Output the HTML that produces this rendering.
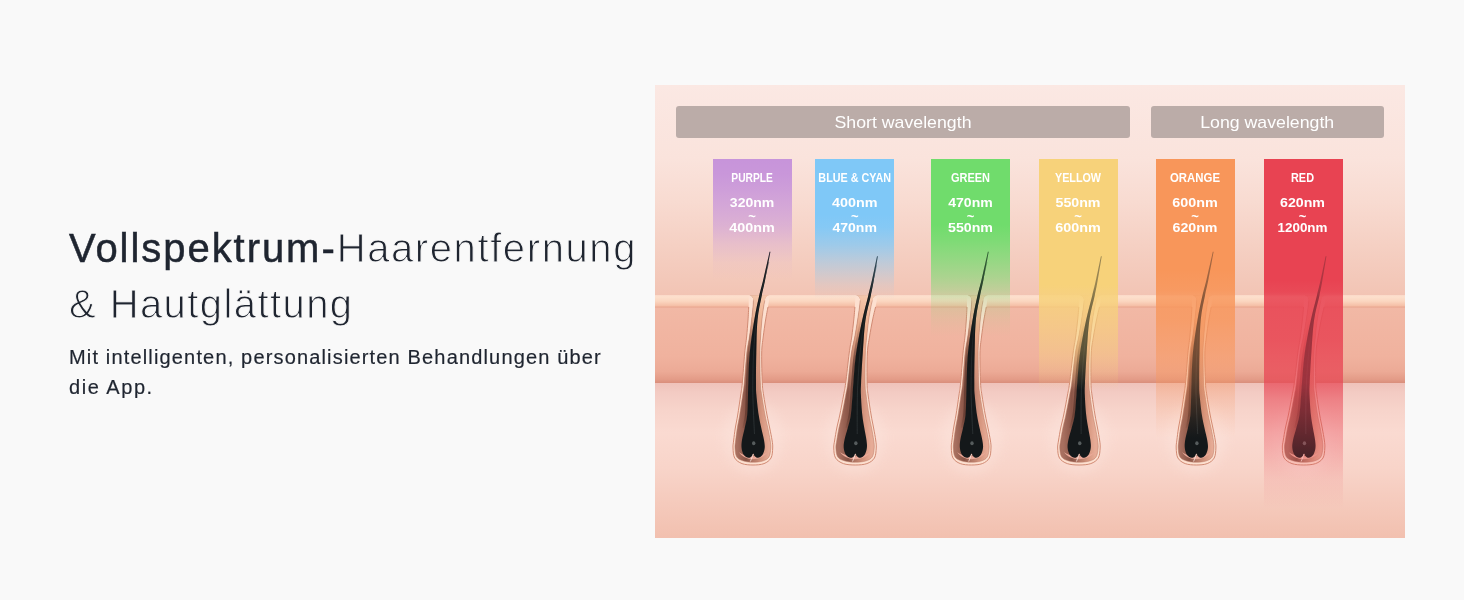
<!DOCTYPE html>
<html lang="de">
<head>
<meta charset="utf-8">
<title>Vollspektrum-Haarentfernung</title>
<style>
  html, body { margin: 0; padding: 0; }
  body {
    width: 1464px; height: 600px; overflow: hidden; position: relative;
    background: #f9f9f9;
    font-family: "Liberation Sans", sans-serif;
    color: #1f2530;
  }
  .h1, .sub, #art { will-change: transform; opacity: 0.999; }
  .h1 {
    position: absolute; left: 69px; top: 219.7px; margin: 0;
    font-size: 40px; line-height: 56px; font-weight: 400; white-space: nowrap;
    color: #1f2530;
  }
  .h1 .b { -webkit-text-stroke: 0.5px #1f2530; letter-spacing: 1.95px; }
  .h1 .l { letter-spacing: 1.6px; color: #1f2530; -webkit-text-stroke: 1.0px #f9f9f9; }
  .h1 .l2 { letter-spacing: 1.42px; }
  .sub {
    position: absolute; left: 69px; top: 343px; margin: 0;
    font-size: 20px; line-height: 29.7px; white-space: nowrap; color: #1f2530;
    letter-spacing: 1.16px; -webkit-text-stroke: 0.2px #1f2530;
  }
  #art { position: absolute; left: 655px; top: 85px; width: 750px; height: 453px; display: block; }
  .t { font-family: "Liberation Sans", sans-serif; fill: #fff; text-anchor: middle; }
</style>
</head>
<body>
<div class="h1"><span class="b">Vollspektrum-</span><span class="l">Haarentfernung</span><br><span class="l l2">&amp; Hautglättung</span></div>
<div class="sub">Mit intelligenten, personalisierten Behandlungen über<br><span style="letter-spacing:1.55px">die App.</span></div>

<svg id="art" viewBox="655 85 750 453">
  <defs>
    <linearGradient id="bg" gradientUnits="userSpaceOnUse" x1="0" y1="85" x2="0" y2="296">
      <stop offset="0" stop-color="#fbe8e3"/>
      <stop offset="0.35" stop-color="#fae3dc"/>
      <stop offset="0.55" stop-color="#f8dbd1"/>
      <stop offset="0.76" stop-color="#f5d0c3"/>
      <stop offset="1" stop-color="#f2c4b4"/>
    </linearGradient>
    <linearGradient id="shTop" gradientUnits="userSpaceOnUse" x1="0" y1="296" x2="0" y2="392">
      <stop offset="0" stop-color="#f9ccb0" stop-opacity="0.9"/>
      <stop offset="0.35" stop-color="#f3b590" stop-opacity="0.72"/>
      <stop offset="0.75" stop-color="#f0ae8c" stop-opacity="0.35"/>
      <stop offset="1" stop-color="#f0ae8c" stop-opacity="0"/>
    </linearGradient>
    <filter id="blur" x="-50%" y="-50%" width="200%" height="200%"><feGaussianBlur stdDeviation="6"/></filter>
    <linearGradient id="epi" x1="0" y1="0" x2="0" y2="1">
      <stop offset="0" stop-color="#f2baa7"/>
      <stop offset="0.7" stop-color="#f0b29e"/>
      <stop offset="0.87" stop-color="#ecaa96"/>
      <stop offset="0.96" stop-color="#e39b87"/>
      <stop offset="1" stop-color="#d98e7b"/>
    </linearGradient>
    <linearGradient id="lip" x1="0" y1="0" x2="0" y2="1">
      <stop offset="0" stop-color="#fbd9c8"/>
      <stop offset="0.15" stop-color="#fde0cd"/>
      <stop offset="0.5" stop-color="#fbd6c0"/>
      <stop offset="0.85" stop-color="#f5c0a8"/>
      <stop offset="0.93" stop-color="#eeb098"/>
      <stop offset="1" stop-color="#e7a38b"/>
    </linearGradient>
    <linearGradient id="derm" x1="0" y1="0" x2="0" y2="1">
      <stop offset="0" stop-color="#efc2ba"/>
      <stop offset="0.06" stop-color="#f3cbc3"/>
      <stop offset="0.18" stop-color="#f7d4cb"/>
      <stop offset="0.32" stop-color="#fadad1"/>
      <stop offset="0.55" stop-color="#f8d4c9"/>
      <stop offset="1" stop-color="#f2c0af"/>
    </linearGradient>
    <linearGradient id="sheath" gradientUnits="userSpaceOnUse" x1="-16" y1="0" x2="16" y2="0">
      <stop offset="0" stop-color="#a87060"/>
      <stop offset="0.28" stop-color="#8a5547"/>
      <stop offset="0.5" stop-color="#b27765"/>
      <stop offset="0.78" stop-color="#d6967f"/>
      <stop offset="1" stop-color="#e6ab96"/>
    </linearGradient>
    <linearGradient id="hsg" gradientUnits="userSpaceOnUse" x1="0" y1="318" x2="0" y2="432">
      <stop offset="0" stop-color="#5e372d" stop-opacity="0"/>
      <stop offset="0.4" stop-color="#5e372d" stop-opacity="1"/>
      <stop offset="0.85" stop-color="#5e372d" stop-opacity="1"/>
      <stop offset="1" stop-color="#5e372d" stop-opacity="0"/>
    </linearGradient>
    <linearGradient id="hmg" gradientUnits="userSpaceOnUse" x1="0" y1="240" x2="0" y2="410">
      <stop offset="0" stop-color="#fff"/><stop offset="0.5" stop-color="#fff"/><stop offset="1" stop-color="#000"/>
    </linearGradient>
    <mask id="hm" maskUnits="userSpaceOnUse" x="600" y="200" width="900" height="300"><rect x="600" y="200" width="900" height="300" fill="url(#hmg)"/></mask>
    <linearGradient id="gP" gradientUnits="userSpaceOnUse" x1="0" y1="159" x2="0" y2="280"><stop offset="0.0000" stop-color="#c794da" stop-opacity="1"/><stop offset="0.1322" stop-color="#c794da" stop-opacity="0.96"/><stop offset="0.2562" stop-color="#c794da" stop-opacity="0.86"/><stop offset="0.4215" stop-color="#c794da" stop-opacity="0.7"/><stop offset="0.5620" stop-color="#c794da" stop-opacity="0.54"/><stop offset="0.7107" stop-color="#c794da" stop-opacity="0.28"/><stop offset="0.8595" stop-color="#c794da" stop-opacity="0.07"/><stop offset="1.0000" stop-color="#c794da" stop-opacity="0"/></linearGradient>
    <linearGradient id="gB" gradientUnits="userSpaceOnUse" x1="0" y1="159" x2="0" y2="299"><stop offset="0.0000" stop-color="#7fc8f7" stop-opacity="1"/><stop offset="0.4000" stop-color="#7fc8f7" stop-opacity="1"/><stop offset="0.4857" stop-color="#7fc8f7" stop-opacity="0.95"/><stop offset="0.6143" stop-color="#7fc8f7" stop-opacity="0.74"/><stop offset="0.7429" stop-color="#7fc8f7" stop-opacity="0.45"/><stop offset="0.9000" stop-color="#7fc8f7" stop-opacity="0.13"/><stop offset="1.0000" stop-color="#7fc8f7" stop-opacity="0"/></linearGradient>
    <linearGradient id="gG" gradientUnits="userSpaceOnUse" x1="0" y1="159" x2="0" y2="336"><stop offset="0.0000" stop-color="#70dc6c" stop-opacity="1"/><stop offset="0.3729" stop-color="#70dc6c" stop-opacity="1"/><stop offset="0.4576" stop-color="#70dc6c" stop-opacity="0.9"/><stop offset="0.5593" stop-color="#70dc6c" stop-opacity="0.74"/><stop offset="0.6667" stop-color="#70dc6c" stop-opacity="0.55"/><stop offset="0.7401" stop-color="#70dc6c" stop-opacity="0.38"/><stop offset="0.7966" stop-color="#70dc6c" stop-opacity="0.2"/><stop offset="0.9096" stop-color="#70dc6c" stop-opacity="0.07"/><stop offset="1.0000" stop-color="#70dc6c" stop-opacity="0"/></linearGradient>
    <linearGradient id="gY" gradientUnits="userSpaceOnUse" x1="0" y1="159" x2="0" y2="390"><stop offset="0.0000" stop-color="#f7d27a" stop-opacity="1"/><stop offset="0.5455" stop-color="#f7d27a" stop-opacity="1"/><stop offset="0.6104" stop-color="#f7d27a" stop-opacity="0.82"/><stop offset="0.7403" stop-color="#f7d27a" stop-opacity="0.6"/><stop offset="0.8268" stop-color="#f7d27a" stop-opacity="0.44"/><stop offset="0.9134" stop-color="#f7d27a" stop-opacity="0.22"/><stop offset="1.0000" stop-color="#f7d27a" stop-opacity="0"/></linearGradient>
    <linearGradient id="gO" gradientUnits="userSpaceOnUse" x1="0" y1="159" x2="0" y2="438"><stop offset="0.0000" stop-color="#f8965a" stop-opacity="1"/><stop offset="0.3978" stop-color="#f8965a" stop-opacity="1"/><stop offset="0.4695" stop-color="#f8965a" stop-opacity="0.92"/><stop offset="0.4946" stop-color="#f8965a" stop-opacity="0.82"/><stop offset="0.5341" stop-color="#f8965a" stop-opacity="0.8"/><stop offset="0.5771" stop-color="#f8965a" stop-opacity="0.78"/><stop offset="0.6846" stop-color="#f8965a" stop-opacity="0.58"/><stop offset="0.7921" stop-color="#f8965a" stop-opacity="0.36"/><stop offset="0.8638" stop-color="#f8965a" stop-opacity="0.2"/><stop offset="0.9355" stop-color="#f8965a" stop-opacity="0.08"/><stop offset="1.0000" stop-color="#f8965a" stop-opacity="0"/></linearGradient>
    <linearGradient id="gR" gradientUnits="userSpaceOnUse" x1="0" y1="159" x2="0" y2="508"><stop offset="0.0000" stop-color="#e84352" stop-opacity="1"/><stop offset="0.3467" stop-color="#e84352" stop-opacity="1"/><stop offset="0.3811" stop-color="#e84352" stop-opacity="0.95"/><stop offset="0.3954" stop-color="#e84352" stop-opacity="0.87"/><stop offset="0.4269" stop-color="#e84352" stop-opacity="0.87"/><stop offset="0.5186" stop-color="#e84352" stop-opacity="0.84"/><stop offset="0.6418" stop-color="#e84352" stop-opacity="0.7"/><stop offset="0.6905" stop-color="#e84352" stop-opacity="0.55"/><stop offset="0.8252" stop-color="#e84352" stop-opacity="0.3"/><stop offset="0.9198" stop-color="#e84352" stop-opacity="0.1"/><stop offset="1.0000" stop-color="#e84352" stop-opacity="0"/></linearGradient>

    <!-- follicle: origin x = bulb centre, absolute y -->
    <g id="folA">
      <ellipse cx="0" cy="438" rx="30" ry="36" fill="#fde9e2" opacity="0.35" filter="url(#blur)"/>
      <path d="M -4.20,296.00 C -4.22,297.83 -4.17,303.00 -4.30,307.00 C -4.43,311.00 -4.65,315.00 -5.00,320.00 C -5.35,325.00 -5.85,331.50 -6.40,337.00 C -6.95,342.50 -7.58,345.33 -8.30,353.00 C -9.02,360.67 -10.03,376.00 -10.70,383.00 C -11.37,390.00 -11.53,389.67 -12.30,395.00 C -13.07,400.33 -14.40,409.50 -15.30,415.00 C -16.20,420.50 -17.03,423.83 -17.70,428.00 C -18.37,432.17 -18.92,436.67 -19.30,440.00 C -19.68,443.33 -20.17,445.00 -20.00,448.00 C -19.83,451.00 -19.80,455.40 -18.30,458.00 C -16.80,460.60 -14.05,462.43 -11.00,463.60 C -7.95,464.77 -3.67,465.00 0.00,465.00 C 3.67,465.00 8.00,464.77 11.00,463.60 C 14.00,462.43 16.55,460.60 18.00,458.00 C 19.45,455.40 19.53,451.00 19.70,448.00 C 19.87,445.00 19.50,443.33 19.00,440.00 C 18.50,436.67 17.53,432.17 16.70,428.00 C 15.87,423.83 15.02,420.50 14.00,415.00 C 12.98,409.50 11.38,400.33 10.60,395.00 C 9.82,389.67 9.62,390.00 9.30,383.00 C 8.98,376.00 8.55,360.67 8.70,353.00 C 8.85,345.33 9.55,342.50 10.20,337.00 C 10.85,331.50 11.80,325.00 12.60,320.00 C 13.40,315.00 14.33,311.00 15.00,307.00 C 15.67,303.00 16.33,297.83 16.60,296.00 Z" fill="#fde0d0"/>
      <path d="M -4.30,307.00 C -4.42,309.17 -4.65,315.00 -5.00,320.00 C -5.35,325.00 -5.85,331.50 -6.40,337.00 C -6.95,342.50 -7.58,345.33 -8.30,353.00 C -9.02,360.67 -10.03,376.00 -10.70,383.00 C -11.37,390.00 -11.53,389.67 -12.30,395.00 C -13.07,400.33 -14.40,409.50 -15.30,415.00 C -16.20,420.50 -17.03,423.83 -17.70,428.00 C -18.37,432.17 -18.92,436.67 -19.30,440.00 C -19.68,443.33 -20.17,445.00 -20.00,448.00 C -19.83,451.00 -19.80,455.40 -18.30,458.00 C -16.80,460.60 -14.05,462.43 -11.00,463.60 C -7.95,464.77 -3.67,465.00 0.00,465.00 C 3.67,465.00 8.00,464.77 11.00,463.60 C 14.00,462.43 16.55,460.60 18.00,458.00 C 19.45,455.40 19.53,451.00 19.70,448.00 C 19.87,445.00 19.50,443.33 19.00,440.00 C 18.50,436.67 17.53,432.17 16.70,428.00 C 15.87,423.83 15.02,420.50 14.00,415.00 C 12.98,409.50 11.38,400.33 10.60,395.00 C 9.82,389.67 9.62,390.00 9.30,383.00 C 8.98,376.00 8.55,360.67 8.70,353.00 C 8.85,345.33 9.55,342.50 10.20,337.00 C 10.85,331.50 11.80,325.00 12.60,320.00 C 13.40,315.00 14.60,309.17 15.00,307.00" fill="none" stroke="#d18a73" stroke-width="1"/>
      <path d="M -3.40,295.20 C -2.97,295.47 -1.43,295.92 -0.80,296.80 C -0.17,297.68 0.27,298.80 0.40,300.50 C 0.53,302.20 0.30,303.75 0.00,307.00 C -0.30,310.25 -0.80,315.00 -1.40,320.00 C -2.00,325.00 -2.80,331.50 -3.60,337.00 C -4.40,342.50 -5.35,345.33 -6.20,353.00 C -7.05,360.67 -8.02,376.00 -8.70,383.00 C -9.38,390.00 -9.53,389.67 -10.30,395.00 C -11.07,400.33 -12.40,409.50 -13.30,415.00 C -14.20,420.50 -15.03,423.83 -15.70,428.00 C -16.37,432.17 -16.92,436.67 -17.30,440.00 C -17.68,443.33 -18.18,445.17 -18.00,448.00 C -17.82,450.83 -17.62,454.83 -16.20,457.00 C -14.78,459.17 -12.23,460.13 -9.50,461.00 C -6.77,461.87 -3.02,462.20 0.20,462.20 C 3.42,462.20 7.18,461.87 9.80,461.00 C 12.42,460.13 14.57,459.17 15.90,457.00 C 17.23,454.83 17.60,450.83 17.80,448.00 C 18.00,445.17 17.60,443.33 17.10,440.00 C 16.60,436.67 15.65,432.17 14.80,428.00 C 13.95,423.83 13.02,420.50 12.00,415.00 C 10.98,409.50 9.47,400.33 8.70,395.00 C 7.93,389.67 7.72,390.00 7.40,383.00 C 7.08,376.00 6.77,360.67 6.80,353.00 C 6.83,345.33 7.25,342.50 7.60,337.00 C 7.95,331.50 8.40,325.00 8.90,320.00 C 9.40,315.00 10.12,310.25 10.60,307.00 C 11.08,303.75 11.37,302.20 11.80,300.50 C 12.23,298.80 12.47,297.68 13.20,296.80 C 13.93,295.92 15.70,295.47 16.20,295.20 Z" fill="url(#sheath)"/>
      <path d="M -3.40,295.20 C -2.97,295.47 -1.43,295.92 -0.80,296.80 C -0.17,297.68 0.27,298.80 0.40,300.50 C 0.53,302.20 0.30,303.75 0.00,307.00 C -0.30,310.25 -0.80,315.00 -1.40,320.00 C -2.00,325.00 -2.80,331.50 -3.60,337.00 C -4.40,342.50 -5.35,345.33 -6.20,353.00 C -7.05,360.67 -8.02,376.00 -8.70,383.00 C -9.38,390.00 -9.53,389.67 -10.30,395.00 C -11.07,400.33 -12.40,409.50 -13.30,415.00 C -14.20,420.50 -15.03,423.83 -15.70,428.00 C -16.37,432.17 -16.92,436.67 -17.30,440.00 C -17.68,443.33 -18.18,445.17 -18.00,448.00 C -17.82,450.83 -17.62,454.83 -16.20,457.00 C -14.78,459.17 -12.23,460.13 -9.50,461.00 C -6.77,461.87 -3.02,462.20 0.20,462.20 C 3.42,462.20 7.18,461.87 9.80,461.00 C 12.42,460.13 14.57,459.17 15.90,457.00 C 17.23,454.83 17.60,450.83 17.80,448.00 C 18.00,445.17 17.60,443.33 17.10,440.00 C 16.60,436.67 15.65,432.17 14.80,428.00 C 13.95,423.83 13.02,420.50 12.00,415.00 C 10.98,409.50 9.47,400.33 8.70,395.00 C 7.93,389.67 7.72,390.00 7.40,383.00 C 7.08,376.00 6.77,360.67 6.80,353.00 C 6.83,345.33 7.25,342.50 7.60,337.00 C 7.95,331.50 8.40,325.00 8.90,320.00 C 9.40,315.00 10.12,310.25 10.60,307.00 C 11.08,303.75 11.37,302.20 11.80,300.50 C 12.23,298.80 12.47,297.68 13.20,296.80 C 13.93,295.92 15.70,295.47 16.20,295.20 Z" fill="url(#shTop)"/>
      <path d="M 0.40,300.50 C 0.33,301.58 0.30,303.75 0.00,307.00 C -0.30,310.25 -0.80,315.00 -1.40,320.00 C -2.00,325.00 -2.80,331.50 -3.60,337.00 C -4.40,342.50 -5.35,345.33 -6.20,353.00 C -7.05,360.67 -8.02,376.00 -8.70,383.00 C -9.38,390.00 -9.53,389.67 -10.30,395.00 C -11.07,400.33 -12.40,409.50 -13.30,415.00 C -14.20,420.50 -15.03,423.83 -15.70,428.00 C -16.37,432.17 -16.92,436.67 -17.30,440.00 C -17.68,443.33 -18.18,445.17 -18.00,448.00 C -17.82,450.83 -17.62,454.83 -16.20,457.00 C -14.78,459.17 -12.23,460.13 -9.50,461.00 C -6.77,461.87 -3.02,462.20 0.20,462.20 C 3.42,462.20 7.18,461.87 9.80,461.00 C 12.42,460.13 14.57,459.17 15.90,457.00 C 17.23,454.83 17.60,450.83 17.80,448.00 C 18.00,445.17 17.60,443.33 17.10,440.00 C 16.60,436.67 15.65,432.17 14.80,428.00 C 13.95,423.83 13.02,420.50 12.00,415.00 C 10.98,409.50 9.47,400.33 8.70,395.00 C 7.93,389.67 7.72,390.00 7.40,383.00 C 7.08,376.00 6.77,360.67 6.80,353.00 C 6.83,345.33 7.25,342.50 7.60,337.00 C 7.95,331.50 8.40,325.00 8.90,320.00 C 9.40,315.00 10.12,310.25 10.60,307.00 C 11.08,303.75 11.60,301.58 11.80,300.50" fill="none" stroke="#b87865" stroke-width="0.5"/>
      <path d="M 0.30,320.00 C -0.47,325.50 -3.30,342.50 -4.30,353.00 C -5.30,363.50 -5.42,376.00 -5.70,383.00 C -5.98,390.00 -5.82,389.67 -6.00,395.00 C -6.18,400.33 -6.25,409.50 -6.80,415.00 C -7.35,420.50 -8.88,425.83 -9.30,428.00" fill="none" stroke="url(#hsg)" stroke-width="2.6" opacity="0.75"/>
      <path d="M -14.0,452 C -9.0,461.5 9.0,461.5 14.5,452 C 9.0,457.5 -9.0,457.5 -14.0,452 Z" fill="#eaa999"/>
      <path d="M 16.60,251.70 C 15.53,256.42 11.92,272.68 10.20,280.00 C 8.47,287.32 7.73,288.93 6.25,295.60 C 4.77,302.27 2.89,310.43 1.30,320.00 C -0.29,329.57 -2.30,342.50 -3.30,353.00 C -4.30,363.50 -4.42,376.00 -4.70,383.00 C -4.98,390.00 -4.82,389.67 -5.00,395.00 C -5.18,400.33 -5.25,409.50 -5.80,415.00 C -6.35,420.50 -7.43,423.83 -8.30,428.00 C -9.17,432.17 -10.48,436.67 -11.00,440.00 C -11.52,443.33 -11.70,445.50 -11.40,448.00 C -11.10,450.50 -10.35,453.37 -9.20,455.00 C -8.05,456.63 -5.83,457.60 -4.50,457.80 C -3.17,458.00 -2.00,456.92 -1.20,456.20 C -0.40,455.48 -0.20,453.50 0.30,453.50 C 0.80,453.50 1.02,455.48 1.80,456.20 C 2.58,456.92 3.73,458.00 5.00,457.80 C 6.27,457.60 8.28,456.63 9.40,455.00 C 10.52,453.37 11.43,450.50 11.70,448.00 C 11.97,445.50 11.57,443.33 11.00,440.00 C 10.43,436.67 9.18,432.17 8.30,428.00 C 7.42,423.83 6.52,420.50 5.70,415.00 C 4.88,409.50 3.85,400.33 3.40,395.00 C 2.95,389.67 3.02,390.00 3.00,383.00 C 2.98,376.00 3.05,363.50 3.30,353.00 C 3.55,342.50 3.59,329.57 4.50,320.00 C 5.41,310.43 7.48,302.27 8.75,295.60 C 10.02,288.93 10.66,287.30 12.10,280.00 C 13.54,272.70 16.52,256.50 17.40,251.80 Z" fill="#14181a"/>
      <path d="M 15.80,262.00 C 14.93,265.50 11.97,277.33 10.60,283.00 C 9.23,288.67 8.82,289.83 7.60,296.00 C 6.38,302.17 4.47,310.50 3.30,320.00 C 2.13,329.50 1.18,342.50 0.60,353.00 C 0.02,363.50 -0.10,375.17 -0.20,383.00 C -0.30,390.83 -0.17,393.83 0.00,400.00 C 0.17,406.17 0.55,414.33 0.80,420.00 C 1.05,425.67 1.38,431.67 1.50,434.00" fill="none" stroke="#3b4345" stroke-width="0.7" opacity="0.8"/>
      <ellipse cx="0.7" cy="443.2" rx="1.7" ry="2" fill="#565c5d"/>
      <path d="M 0.3,454 L -2.6,461.5" stroke="#fce9e2" stroke-width="0.8" fill="none"/>
    </g>
    <path id="hairA" d="M 16.60,251.70 C 15.53,256.42 11.92,272.68 10.20,280.00 C 8.47,287.32 7.73,288.93 6.25,295.60 C 4.77,302.27 2.89,310.43 1.30,320.00 C -0.29,329.57 -2.30,342.50 -3.30,353.00 C -4.30,363.50 -4.42,376.00 -4.70,383.00 C -4.98,390.00 -4.82,389.67 -5.00,395.00 C -5.18,400.33 -5.25,409.50 -5.80,415.00 C -6.35,420.50 -7.43,423.83 -8.30,428.00 C -9.17,432.17 -10.48,436.67 -11.00,440.00 C -11.52,443.33 -11.70,445.50 -11.40,448.00 C -11.10,450.50 -10.35,453.37 -9.20,455.00 C -8.05,456.63 -5.83,457.60 -4.50,457.80 C -3.17,458.00 -2.00,456.92 -1.20,456.20 C -0.40,455.48 -0.20,453.50 0.30,453.50 C 0.80,453.50 1.02,455.48 1.80,456.20 C 2.58,456.92 3.73,458.00 5.00,457.80 C 6.27,457.60 8.28,456.63 9.40,455.00 C 10.52,453.37 11.43,450.50 11.70,448.00 C 11.97,445.50 11.57,443.33 11.00,440.00 C 10.43,436.67 9.18,432.17 8.30,428.00 C 7.42,423.83 6.52,420.50 5.70,415.00 C 4.88,409.50 3.85,400.33 3.40,395.00 C 2.95,389.67 3.02,390.00 3.00,383.00 C 2.98,376.00 3.05,363.50 3.30,353.00 C 3.55,342.50 3.59,329.57 4.50,320.00 C 5.41,310.43 7.48,302.27 8.75,295.60 C 10.02,288.93 10.66,287.30 12.10,280.00 C 13.54,272.70 16.52,256.50 17.40,251.80 Z" fill="#14181a"/>
    <g id="folB">
      <ellipse cx="0" cy="438" rx="30" ry="36" fill="#fde9e2" opacity="0.35" filter="url(#blur)"/>
      <path d="M 0.21,296.00 C 0.13,297.83 0.02,303.00 -0.24,307.00 C -0.51,311.00 -0.87,315.00 -1.40,320.00 C -1.93,325.00 -2.66,331.50 -3.42,337.00 C -4.18,342.50 -4.95,345.33 -5.96,353.00 C -6.96,360.67 -8.53,376.00 -9.46,383.00 C -10.39,390.00 -10.56,389.67 -11.54,395.00 C -12.53,400.33 -14.24,409.50 -15.37,415.00 C -16.51,420.50 -17.50,423.83 -18.35,428.00 C -19.19,432.17 -19.92,436.67 -20.43,440.00 C -20.94,443.33 -21.54,445.00 -21.40,448.00 C -21.26,451.00 -21.19,455.40 -19.58,458.00 C -17.98,460.60 -15.03,462.43 -11.77,463.60 C -8.51,464.77 -3.92,465.00 0.00,465.00 C 3.92,465.00 8.56,464.77 11.77,463.60 C 14.98,462.43 17.71,460.60 19.26,458.00 C 20.81,455.40 20.86,451.00 21.08,448.00 C 21.29,445.00 20.98,443.33 20.55,440.00 C 20.11,436.67 19.22,432.17 18.46,428.00 C 17.70,423.83 16.89,420.50 15.98,415.00 C 15.06,409.50 13.63,400.33 12.96,395.00 C 12.29,389.67 12.06,390.00 11.94,383.00 C 11.82,376.00 11.84,360.67 12.23,353.00 C 12.63,345.33 13.47,342.50 14.34,337.00 C 15.20,331.50 16.42,325.00 17.43,320.00 C 18.45,315.00 19.57,311.00 20.41,307.00 C 21.25,303.00 22.12,297.83 22.46,296.00 Z" fill="#fde0d0"/>
      <path d="M -0.24,307.00 C -0.44,309.17 -0.87,315.00 -1.40,320.00 C -1.93,325.00 -2.66,331.50 -3.42,337.00 C -4.18,342.50 -4.95,345.33 -5.96,353.00 C -6.96,360.67 -8.53,376.00 -9.46,383.00 C -10.39,390.00 -10.56,389.67 -11.54,395.00 C -12.53,400.33 -14.24,409.50 -15.37,415.00 C -16.51,420.50 -17.50,423.83 -18.35,428.00 C -19.19,432.17 -19.92,436.67 -20.43,440.00 C -20.94,443.33 -21.54,445.00 -21.40,448.00 C -21.26,451.00 -21.19,455.40 -19.58,458.00 C -17.98,460.60 -15.03,462.43 -11.77,463.60 C -8.51,464.77 -3.92,465.00 0.00,465.00 C 3.92,465.00 8.56,464.77 11.77,463.60 C 14.98,462.43 17.71,460.60 19.26,458.00 C 20.81,455.40 20.86,451.00 21.08,448.00 C 21.29,445.00 20.98,443.33 20.55,440.00 C 20.11,436.67 19.22,432.17 18.46,428.00 C 17.70,423.83 16.89,420.50 15.98,415.00 C 15.06,409.50 13.63,400.33 12.96,395.00 C 12.29,389.67 12.06,390.00 11.94,383.00 C 11.82,376.00 11.84,360.67 12.23,353.00 C 12.63,345.33 13.47,342.50 14.34,337.00 C 15.20,331.50 16.42,325.00 17.43,320.00 C 18.45,315.00 19.91,309.17 20.41,307.00" fill="none" stroke="#d18a73" stroke-width="1"/>
      <path d="M 1.06,295.20 C 1.52,295.47 3.16,295.92 3.82,296.80 C 4.47,297.68 4.90,298.80 4.99,300.50 C 5.08,302.20 4.78,303.75 4.36,307.00 C 3.94,310.25 3.25,315.00 2.45,320.00 C 1.66,325.00 0.60,331.50 -0.43,337.00 C -1.46,342.50 -2.56,345.33 -3.71,353.00 C -4.86,360.67 -6.37,376.00 -7.32,383.00 C -8.27,390.00 -8.42,389.67 -9.40,395.00 C -10.39,400.33 -12.10,409.50 -13.23,415.00 C -14.37,420.50 -15.36,423.83 -16.21,428.00 C -17.05,432.17 -17.78,436.67 -18.29,440.00 C -18.80,443.33 -19.42,445.17 -19.26,448.00 C -19.10,450.83 -18.85,454.83 -17.33,457.00 C -15.82,459.17 -13.09,460.13 -10.17,461.00 C -7.24,461.87 -3.23,462.20 0.21,462.20 C 3.66,462.20 7.69,461.87 10.49,461.00 C 13.29,460.13 15.59,459.17 17.01,457.00 C 18.44,454.83 18.80,450.83 19.05,448.00 C 19.30,445.17 18.95,443.33 18.51,440.00 C 18.08,436.67 17.21,432.17 16.43,428.00 C 15.65,423.83 14.75,420.50 13.84,415.00 C 12.92,409.50 11.58,400.33 10.93,395.00 C 10.27,389.67 10.03,390.00 9.91,383.00 C 9.79,376.00 9.93,360.67 10.20,353.00 C 10.48,345.33 11.01,342.50 11.56,337.00 C 12.10,331.50 12.79,325.00 13.48,320.00 C 14.17,315.00 15.08,310.25 15.70,307.00 C 16.32,303.75 16.67,302.20 17.19,300.50 C 17.70,298.80 17.99,297.68 18.80,296.80 C 19.61,295.92 21.49,295.47 22.03,295.20 Z" fill="url(#sheath)"/>
      <path d="M 1.06,295.20 C 1.52,295.47 3.16,295.92 3.82,296.80 C 4.47,297.68 4.90,298.80 4.99,300.50 C 5.08,302.20 4.78,303.75 4.36,307.00 C 3.94,310.25 3.25,315.00 2.45,320.00 C 1.66,325.00 0.60,331.50 -0.43,337.00 C -1.46,342.50 -2.56,345.33 -3.71,353.00 C -4.86,360.67 -6.37,376.00 -7.32,383.00 C -8.27,390.00 -8.42,389.67 -9.40,395.00 C -10.39,400.33 -12.10,409.50 -13.23,415.00 C -14.37,420.50 -15.36,423.83 -16.21,428.00 C -17.05,432.17 -17.78,436.67 -18.29,440.00 C -18.80,443.33 -19.42,445.17 -19.26,448.00 C -19.10,450.83 -18.85,454.83 -17.33,457.00 C -15.82,459.17 -13.09,460.13 -10.17,461.00 C -7.24,461.87 -3.23,462.20 0.21,462.20 C 3.66,462.20 7.69,461.87 10.49,461.00 C 13.29,460.13 15.59,459.17 17.01,457.00 C 18.44,454.83 18.80,450.83 19.05,448.00 C 19.30,445.17 18.95,443.33 18.51,440.00 C 18.08,436.67 17.21,432.17 16.43,428.00 C 15.65,423.83 14.75,420.50 13.84,415.00 C 12.92,409.50 11.58,400.33 10.93,395.00 C 10.27,389.67 10.03,390.00 9.91,383.00 C 9.79,376.00 9.93,360.67 10.20,353.00 C 10.48,345.33 11.01,342.50 11.56,337.00 C 12.10,331.50 12.79,325.00 13.48,320.00 C 14.17,315.00 15.08,310.25 15.70,307.00 C 16.32,303.75 16.67,302.20 17.19,300.50 C 17.70,298.80 17.99,297.68 18.80,296.80 C 19.61,295.92 21.49,295.47 22.03,295.20 Z" fill="url(#shTop)"/>
      <path d="M 4.99,300.50 C 4.88,301.58 4.78,303.75 4.36,307.00 C 3.94,310.25 3.25,315.00 2.45,320.00 C 1.66,325.00 0.60,331.50 -0.43,337.00 C -1.46,342.50 -2.56,345.33 -3.71,353.00 C -4.86,360.67 -6.37,376.00 -7.32,383.00 C -8.27,390.00 -8.42,389.67 -9.40,395.00 C -10.39,400.33 -12.10,409.50 -13.23,415.00 C -14.37,420.50 -15.36,423.83 -16.21,428.00 C -17.05,432.17 -17.78,436.67 -18.29,440.00 C -18.80,443.33 -19.42,445.17 -19.26,448.00 C -19.10,450.83 -18.85,454.83 -17.33,457.00 C -15.82,459.17 -13.09,460.13 -10.17,461.00 C -7.24,461.87 -3.23,462.20 0.21,462.20 C 3.66,462.20 7.69,461.87 10.49,461.00 C 13.29,460.13 15.59,459.17 17.01,457.00 C 18.44,454.83 18.80,450.83 19.05,448.00 C 19.30,445.17 18.95,443.33 18.51,440.00 C 18.08,436.67 17.21,432.17 16.43,428.00 C 15.65,423.83 14.75,420.50 13.84,415.00 C 12.92,409.50 11.58,400.33 10.93,395.00 C 10.27,389.67 10.03,390.00 9.91,383.00 C 9.79,376.00 9.93,360.67 10.20,353.00 C 10.48,345.33 11.01,342.50 11.56,337.00 C 12.10,331.50 12.79,325.00 13.48,320.00 C 14.17,315.00 15.08,310.25 15.70,307.00 C 16.32,303.75 16.94,301.58 17.19,300.50" fill="none" stroke="#b87865" stroke-width="0.5"/>
      <path d="M 6.10,320.00 C 5.09,325.50 1.48,342.50 -0.00,353.00 C -1.48,363.50 -2.17,376.00 -2.78,383.00 C -3.38,390.00 -3.20,389.67 -3.62,395.00 C -4.05,400.33 -4.54,409.50 -5.34,415.00 C -6.14,420.50 -7.92,425.83 -8.43,428.00" fill="none" stroke="url(#hsg)" stroke-width="2.6" opacity="0.75"/>
      <path d="M -15.0,452 C -9.6,461.5 9.6,461.5 15.5,452 C 9.6,457.5 -9.6,457.5 -15.0,452 Z" fill="#eaa999"/>
      <path d="M 21.89,256.13 C 20.99,260.38 17.98,275.01 16.52,281.60 C 15.06,288.19 14.70,289.24 13.14,295.64 C 11.57,302.04 9.13,310.44 7.10,320.00 C 5.08,329.56 2.48,342.50 1.00,353.00 C -0.48,363.50 -1.17,376.00 -1.78,383.00 C -2.38,390.00 -2.20,389.67 -2.62,395.00 C -3.05,400.33 -3.54,409.50 -4.34,415.00 C -5.14,420.50 -6.37,423.83 -7.43,428.00 C -8.49,432.17 -10.02,436.67 -10.68,440.00 C -11.34,443.33 -11.65,445.50 -11.40,448.00 C -11.15,450.50 -10.35,453.37 -9.20,455.00 C -8.05,456.63 -5.83,457.60 -4.50,457.80 C -3.17,458.00 -2.00,456.92 -1.20,456.20 C -0.40,455.48 -0.20,453.50 0.30,453.50 C 0.80,453.50 1.02,455.48 1.80,456.20 C 2.58,456.92 3.73,458.00 5.00,457.80 C 6.27,457.60 8.28,456.63 9.40,455.00 C 10.52,453.37 11.38,450.50 11.70,448.00 C 12.02,445.50 11.74,443.33 11.32,440.00 C 10.90,436.67 9.86,432.17 9.17,428.00 C 8.48,423.83 7.73,420.50 7.16,415.00 C 6.60,409.50 5.98,400.33 5.78,395.00 C 5.57,389.67 5.62,390.00 5.92,383.00 C 6.23,376.00 6.87,363.50 7.60,353.00 C 8.33,342.50 8.96,329.56 10.30,320.00 C 11.64,310.44 14.28,302.04 15.64,295.64 C 16.99,289.24 17.24,288.17 18.42,281.60 C 19.59,275.03 21.98,260.45 22.69,256.22 Z" fill="#14181a"/>
      <path d="M 21.46,265.40 C 20.72,268.55 18.19,279.20 17.03,284.30 C 15.87,289.40 15.82,290.05 14.50,296.00 C 13.18,301.95 10.70,310.50 9.10,320.00 C 7.50,329.50 5.96,342.50 4.90,353.00 C 3.83,363.50 3.18,375.17 2.72,383.00 C 2.27,390.83 2.26,393.83 2.15,400.00 C 2.03,406.17 2.04,414.33 2.03,420.00 C 2.02,425.67 2.08,431.67 2.09,434.00" fill="none" stroke="#3b4345" stroke-width="0.7" opacity="0.8"/>
      <ellipse cx="0.7" cy="443.2" rx="1.7" ry="2" fill="#565c5d"/>
      <path d="M 0.3,454 L -2.6,461.5" stroke="#fce9e2" stroke-width="0.8" fill="none"/>
    </g>
    <path id="hairB" d="M 21.89,256.13 C 20.99,260.38 17.98,275.01 16.52,281.60 C 15.06,288.19 14.70,289.24 13.14,295.64 C 11.57,302.04 9.13,310.44 7.10,320.00 C 5.08,329.56 2.48,342.50 1.00,353.00 C -0.48,363.50 -1.17,376.00 -1.78,383.00 C -2.38,390.00 -2.20,389.67 -2.62,395.00 C -3.05,400.33 -3.54,409.50 -4.34,415.00 C -5.14,420.50 -6.37,423.83 -7.43,428.00 C -8.49,432.17 -10.02,436.67 -10.68,440.00 C -11.34,443.33 -11.65,445.50 -11.40,448.00 C -11.15,450.50 -10.35,453.37 -9.20,455.00 C -8.05,456.63 -5.83,457.60 -4.50,457.80 C -3.17,458.00 -2.00,456.92 -1.20,456.20 C -0.40,455.48 -0.20,453.50 0.30,453.50 C 0.80,453.50 1.02,455.48 1.80,456.20 C 2.58,456.92 3.73,458.00 5.00,457.80 C 6.27,457.60 8.28,456.63 9.40,455.00 C 10.52,453.37 11.38,450.50 11.70,448.00 C 12.02,445.50 11.74,443.33 11.32,440.00 C 10.90,436.67 9.86,432.17 9.17,428.00 C 8.48,423.83 7.73,420.50 7.16,415.00 C 6.60,409.50 5.98,400.33 5.78,395.00 C 5.57,389.67 5.62,390.00 5.92,383.00 C 6.23,376.00 6.87,363.50 7.60,353.00 C 8.33,342.50 8.96,329.56 10.30,320.00 C 11.64,310.44 14.28,302.04 15.64,295.64 C 16.99,289.24 17.24,288.17 18.42,281.60 C 19.59,275.03 21.98,260.45 22.69,256.22 Z" fill="#14181a"/>
  </defs>

  <rect x="655" y="85" width="750" height="453" fill="url(#bg)"/>

  <!-- header bars -->
  <rect x="676" y="106" width="454" height="32" rx="3" fill="#bbaca8"/>
  <rect x="1151" y="106" width="233" height="32" rx="3" fill="#bbaca8"/>
  <text class="t" x="903" y="128" font-size="16.2" textLength="137" lengthAdjust="spacingAndGlyphs">Short wavelength</text>
  <text class="t" x="1267.2" y="128" font-size="16.2" textLength="134" lengthAdjust="spacingAndGlyphs">Long wavelength</text>

  <!-- skin -->
  <rect x="655" y="383" width="750" height="155" fill="url(#derm)"/>
  <rect x="655" y="295" width="750" height="88" fill="url(#epi)"/>
  <rect x="655" y="295" width="750" height="12.5" fill="url(#lip)"/>

  <!-- follicles -->
  <use href="#folA" x="753"/>
  <use href="#folB" x="855.15"/>
  <use href="#folA" x="971.3"/>
  <use href="#folB" x="1079.05"/>
  <use href="#folA" x="1196.2"/>
  <use href="#folB" x="1303.75"/>

  <!-- colour bands -->
  <rect x="713" y="159" width="79" height="121" fill="url(#gP)"/>
  <rect x="815" y="159" width="79" height="140" fill="url(#gB)"/>
  <rect x="931" y="159" width="79" height="177" fill="url(#gG)"/>
  <rect x="1039" y="159" width="79" height="231" fill="url(#gY)"/>
  <rect x="1156" y="159" width="79" height="279" fill="url(#gO)"/>
  <rect x="1264" y="159" width="79" height="349" fill="url(#gR)"/>

  <!-- hair showing through the bands -->
  <g mask="url(#hm)">
    <use href="#hairA" x="753" opacity="0.3"/>
    <use href="#hairB" x="855.15" opacity="0.4"/>
    <use href="#hairA" x="971.3" opacity="0.55"/>
    <use href="#hairB" x="1079.05" opacity="0.42"/>
    <use href="#hairA" x="1196.2" opacity="0.38"/>
    <use href="#hairB" x="1303.75" opacity="0.27"/>
  </g>

  <!-- labels -->
  <g font-weight="700">
    <text class="t" x="752.1" y="181.7" font-size="12" textLength="41.5" lengthAdjust="spacingAndGlyphs">PURPLE</text>
    <text class="t" x="854.7" y="181.7" font-size="12" textLength="72.7" lengthAdjust="spacingAndGlyphs">BLUE &amp; CYAN</text>
    <text class="t" x="970.5" y="181.7" font-size="12" textLength="39" lengthAdjust="spacingAndGlyphs">GREEN</text>
    <text class="t" x="1078" y="181.7" font-size="12" textLength="46" lengthAdjust="spacingAndGlyphs">YELLOW</text>
    <text class="t" x="1195" y="181.7" font-size="12" textLength="50" lengthAdjust="spacingAndGlyphs">ORANGE</text>
    <text class="t" x="1302.5" y="181.7" font-size="12" textLength="23" lengthAdjust="spacingAndGlyphs">RED</text>
    <text class="t" x="752.1" y="206.8" font-size="12.6" textLength="44.5" lengthAdjust="spacingAndGlyphs">320nm</text>
    <text class="t" x="752.1" y="232.3" font-size="12.6" textLength="45.5" lengthAdjust="spacingAndGlyphs">400nm</text>
    <text class="t" x="752.1" y="220.5" font-size="13">~</text>
    <text class="t" x="854.7" y="206.8" font-size="12.6" textLength="45.5" lengthAdjust="spacingAndGlyphs">400nm</text>
    <text class="t" x="854.7" y="232.3" font-size="12.6" textLength="44.5" lengthAdjust="spacingAndGlyphs">470nm</text>
    <text class="t" x="854.7" y="220.5" font-size="13">~</text>
    <text class="t" x="970.5" y="206.8" font-size="12.6" textLength="44.5" lengthAdjust="spacingAndGlyphs">470nm</text>
    <text class="t" x="970.5" y="232.3" font-size="12.6" textLength="45" lengthAdjust="spacingAndGlyphs">550nm</text>
    <text class="t" x="970.5" y="220.5" font-size="13">~</text>
    <text class="t" x="1078" y="206.8" font-size="12.6" textLength="45" lengthAdjust="spacingAndGlyphs">550nm</text>
    <text class="t" x="1078" y="232.3" font-size="12.6" textLength="45.5" lengthAdjust="spacingAndGlyphs">600nm</text>
    <text class="t" x="1078" y="220.5" font-size="13">~</text>
    <text class="t" x="1195" y="206.8" font-size="12.6" textLength="45.5" lengthAdjust="spacingAndGlyphs">600nm</text>
    <text class="t" x="1195" y="232.3" font-size="12.6" textLength="45" lengthAdjust="spacingAndGlyphs">620nm</text>
    <text class="t" x="1195" y="220.5" font-size="13">~</text>
    <text class="t" x="1302.5" y="206.8" font-size="12.6" textLength="45" lengthAdjust="spacingAndGlyphs">620nm</text>
    <text class="t" x="1302.5" y="232.3" font-size="12.6" textLength="50" lengthAdjust="spacingAndGlyphs">1200nm</text>
    <text class="t" x="1302.5" y="220.5" font-size="13">~</text>
  </g>
</svg>
</body>
</html>
